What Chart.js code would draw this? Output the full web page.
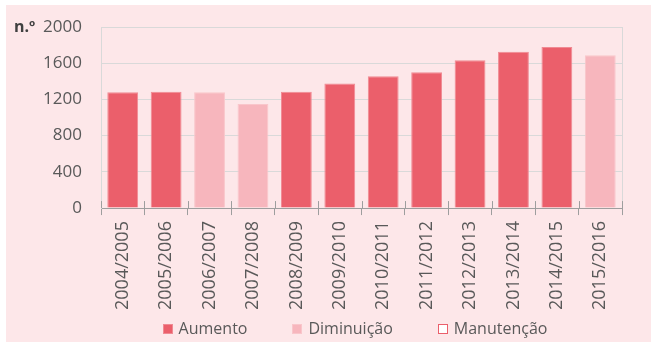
<!DOCTYPE html>
<html>
<head>
<meta charset="utf-8">
<script src="https://cdn.jsdelivr.net/npm/chart.js@4/dist/chart.umd.min.js"></script>
<style>
  html, body { margin: 0; padding: 0; background: #fff; }
  #panel {
    position: absolute; left: 6px; top: 5px;
    width: 645px; height: 337px;
    background: #FDE7E9;
  }
</style>
</head>
<body>
<div id="panel"><canvas id="chart"></canvas></div>
<script>
// School years on the x axis
const categories = ['2004/2005', '2005/2006', '2006/2007', '2007/2008', '2008/2009', '2009/2010',
                    '2010/2011', '2011/2012', '2012/2013', '2013/2014', '2014/2015', '2015/2016'];

// n.º per year, split by whether it went up or down vs the year before
const aumento     = [1280, 1285, null, null, 1285, 1375, 1455, 1500, 1632, 1727, 1780, null];
const diminuicao  = [null, null, 1280, 1150, null, null, null, null, null, null, null, 1688];
const manutencao  = [null, null, null, null, null, null, null, null, null, null, null, null];

const yTicks = [0, 400, 800, 1200, 1600, 2000];

const colors = {
  up: '#EB5F6B',
  upEdge: '#F08A93',
  down: '#F7B6BD',
  downEdge: '#F9C6CB',
  grid: '#D9D9D9',
  axis: '#9E9E9E',
  text: '#595959'
};
const fontFamily = "'Open Sans', sans-serif";

// frame edge, ticks crossing the axis, unit label
const chartExtras = {
  id: 'chartExtras',
  afterDraw(chart) {
    const { ctx, chartArea: a, scales: { x, y } } = chart;
    ctx.save();
    ctx.lineWidth = 1;
    ctx.strokeStyle = colors.grid;
    ctx.beginPath();
    ctx.moveTo(Math.round(a.right) + 0.5, a.top);
    ctx.lineTo(Math.round(a.right) + 0.5, a.bottom);
    ctx.stroke();

    ctx.strokeStyle = colors.axis;
    ctx.beginPath();
    const half = (x.getPixelForValue(1) - x.getPixelForValue(0)) / 2;
    for (let i = 0; i <= categories.length; i++) {
      const px = Math.round(x.getPixelForValue(i) - half) + 0.5;
      ctx.moveTo(px, a.bottom - 7);
      ctx.lineTo(px, a.bottom);
    }
    ctx.stroke();

    ctx.font = `bold 16px ${fontFamily}`;
    ctx.fillStyle = '#404040';
    ctx.textAlign = 'left';
    ctx.textBaseline = 'middle';
    ctx.fillText('n.º', 8, y.getPixelForValue(yTicks[yTicks.length - 1]));
    ctx.restore();
  }
};

// legend row under the year labels, wide gaps between entries
const wideLegend = {
  id: 'wideLegend',
  afterDraw(chart, args, opts) {
    const { ctx } = chart;
    const box = 10, gap = 6, spacing = opts.spacing;
    ctx.save();
    ctx.font = `16px ${fontFamily}`;
    const items = chart.data.datasets.map(ds => ({
      text: ds.label,
      fill: ds.backgroundColor,
      stroke: ds.borderColor,
      w: box + gap + ctx.measureText(ds.label).width
    }));
    const total = items.reduce((s, it) => s + it.w, 0) + spacing * (items.length - 1);
    let cx = opts.centerX - total / 2;
    const cy = opts.y;
    ctx.textAlign = 'left';
    ctx.textBaseline = 'middle';
    ctx.lineWidth = 1;
    for (const it of items) {
      const bx = Math.round(cx) + 0.5, by = Math.round(cy - box / 2) + 0.5;
      ctx.fillStyle = it.fill;
      ctx.fillRect(bx, by, box - 1, box - 1);
      ctx.strokeStyle = it.stroke;
      ctx.strokeRect(bx, by, box - 1, box - 1);
      ctx.fillStyle = colors.text;
      ctx.fillText(it.text, cx + box + gap, cy);
      cx += it.w + spacing;
    }
    ctx.restore();
  }
};

new Chart(document.getElementById('chart'), {
  type: 'bar',
  data: {
    labels: categories,
    datasets: [
      {
        label: 'Aumento',
        data: aumento,
        backgroundColor: colors.up,
        borderColor: colors.upEdge,
        borderWidth: 1
      },
      {
        label: 'Diminuição',
        data: diminuicao,
        backgroundColor: colors.down,
        borderColor: colors.downEdge,
        borderWidth: 1
      },
      {
        label: 'Manutenção',
        data: manutencao,
        backgroundColor: '#FFFFFF',
        borderColor: colors.up,
        borderWidth: 1
      }
    ]
  },
  plugins: [chartExtras, wideLegend],
  options: {
    responsive: true,
    maintainAspectRatio: false,
    animation: false,
    categoryPercentage: 1,
    barPercentage: 0.71,
    layout: { padding: { left: 0, right: 29, top: 22, bottom: 26 } },
    plugins: {
      tooltip: { enabled: false },
      legend: { display: false },
      wideLegend: { centerX: 349, y: 324, spacing: 45 }
    },
    scales: {
      x: {
        stacked: true,
        border: { color: colors.axis },
        grid: {
          offset: true,
          drawOnChartArea: false,
          color: colors.axis,
          tickLength: 7
        },
        ticks: {
          color: colors.text,
          font: { family: fontFamily, size: 18 },
          minRotation: 90,
          maxRotation: 90,
          padding: 6
        }
      },
      y: {
        stacked: true,
        min: 0,
        max: 2000,
        afterFit: (scale) => { scale.width = 95; },
        afterBuildTicks: (scale) => { scale.ticks = yTicks.map(v => ({ value: v })); },
        border: { color: colors.grid },
        // invisible tick marks make the gap between labels and the frame
        grid: { color: colors.grid, tickLength: 17, tickColor: 'rgba(0,0,0,0)' },
        ticks: {
          color: colors.text,
          font: { family: fontFamily, size: 17 },
          padding: 2,
          callback: (v) => String(v)
        }
      }
    }
  }
});
</script>
</body>
</html>
